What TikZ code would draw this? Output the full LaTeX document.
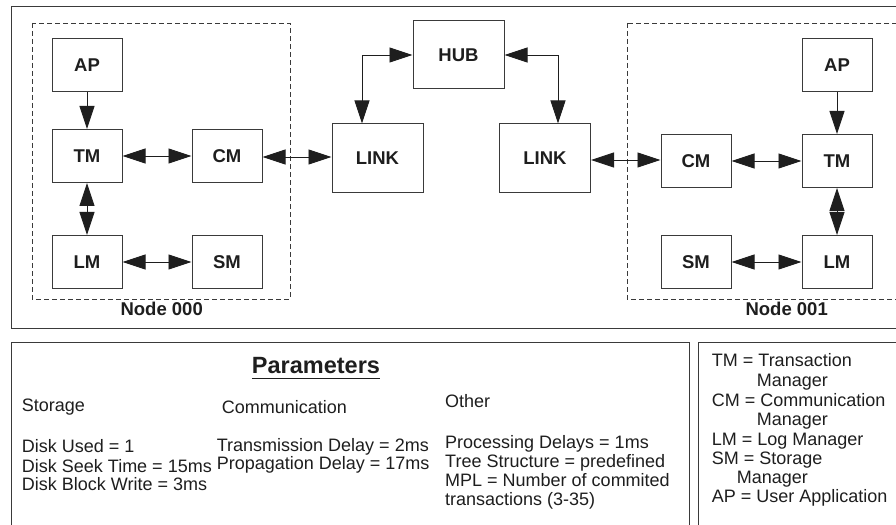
\documentclass[tikz,border=0pt]{standalone}
\usepackage{fontspec}
\setmainfont{Liberation Sans}
\usetikzlibrary{arrows.meta}
\definecolor{ink}{HTML}{1E1E1E}
\definecolor{rule}{HTML}{3A3A3A}
\begin{document}
\begin{tikzpicture}[x=1bp,y=-1bp,
  >={Triangle[length=23bp,width=15bp]},
  frame/.style={draw=rule, line width=1bp},
  part/.style={draw=rule, line width=1bp, minimum width=70bp, minimum height=53bp,
    inner sep=0pt, text=ink, font=\fontsize{18.5bp}{20bp}\selectfont\bfseries},
  wide/.style={part, minimum width=91bp, minimum height=68bp},
  zone/.style={draw=rule, line width=0.9bp, dash pattern=on 5bp off 3bp},
  link/.style={draw=ink, line width=0.9bp},
  txt/.style={anchor=base west, inner sep=0pt, text=ink,
    font=\fontsize{18bp}{19bp}\selectfont},
  lbl/.style={anchor=base, inner sep=0pt, text=ink,
    font=\fontsize{18.5bp}{20bp}\selectfont\bfseries}
]
\useasboundingbox (0,0) rectangle (896,525);
\fill[white] (0,0) rectangle (896,525);
\clip (0,0) rectangle (896,525);

% outer frames
\draw[frame] (11,7) rectangle (910,328);
\draw[frame] (11,342) rectangle (689,540);
\draw[frame] (698,342) rectangle (910,540);

% site boundaries
\draw[zone] (32,23) rectangle (290,299);
\draw[zone] (627,23) rectangle (910,299);
\node[lbl] (n0) at (161.7,316) {Node 000};
\node[lbl] (n1) at (786.7,316) {Node 001};

% site 000
\node[part] (AP1) at (87,65.5) {AP};
\node[part] (TM1) at (87,156) {TM};
\node[part] (CM1) at (227,156) {CM};
\node[part] (LM1) at (87,262) {LM};
\node[part] (SM1) at (227,262) {SM};

% site 001
\node[part] (AP2) at (837,65.5) {AP};
\node[part] (TM2) at (837,161) {TM};
\node[part] (CM2) at (696,161) {CM};
\node[part] (SM2) at (696,262) {SM};
\node[part] (LM2) at (837,262) {LM};

% network
\node[wide] (HUB) at (458.5,55) {HUB};
\node[wide, minimum height=69bp] (LINK1) at (377.5,158.5) {LINK};
\node[wide, minimum height=69bp] (LINK2) at (545,158.5) {LINK};

% connectors, site 000
\draw[link,->] (AP1.south) -- (TM1.north);
\draw[link,<->] (TM1.east) -- (CM1.west);
\draw[link,<->] (TM1.south) -- (LM1.north);
\draw[link,<->] (LM1.east) -- (SM1.west);
\draw[link,<->] ([yshift=-1bp]CM1.east) -- ([yshift=-1bp]CM1.east -| LINK1.west);

% connectors, site 001
\draw[link,->] (AP2.south) -- (TM2.north);
\draw[link,<->] (CM2.east) -- (TM2.west);
\draw[link,<->] (TM2.south) -- (LM2.north);
\draw[link,<->] (SM2.east) -- (LM2.west);
\draw[link,<->] ([yshift=1bp]CM2.west -| LINK2.east) -- ([yshift=1bp]CM2.west);

% hub connections
\coordinate (L1top) at ([xshift=-15.5bp]LINK1.north);
\coordinate (L2top) at ([xshift=13bp]LINK2.north);
\draw[link,<->] (L1top) |- (HUB.west);
\draw[link,<->] (HUB.east) -| (L2top);

% parameters panel
\node[anchor=base, inner sep=0pt, text=ink, font=\fontsize{23.5bp}{26bp}\selectfont\bfseries]
  (title) at (316,373.3) {Parameters};
\draw[draw=ink, line width=1.5bp] ([yshift=-5bp]title.base west) -- ([yshift=-5bp]title.base east);

\node[txt] (s0) at (21.7,411) {Storage};
\node[txt] (s1) at (21.7,452.7) {Disk Used = 1};
\node[txt] (s2) at (21.7,472) {Disk Seek Time = 15ms};
\node[txt] (s3) at (21.7,490.7) {Disk Block Write = 3ms};

\node[txt] (c0) at (221.7,413) {Communication};
\node[txt] (c1) at (216.7,451.7) {Transmission Delay = 2ms};
\node[txt] (c2) at (216.7,469) {Propagation Delay = 17ms};

\node[txt] (o0) at (445,407.7) {Other};
\node[txt] (o1) at (445,448.3) {Processing Delays = 1ms};
\node[txt] (o2) at (445,467.7) {Tree Structure = predefined};
\node[txt] (o3) at (445,486.7) {MPL = Number of commited};
\node[txt] (o4) at (445,505.7) {transactions (3-35)};

% legend panel
\node[txt] (g1) at (711.7,366.7) {TM = Transaction};
\node[txt] (g2) at (756.7,386.3) {Manager};
\node[txt] (g3) at (711.7,406) {CM = Communication};
\node[txt] (g4) at (756.7,425.5) {Manager};
\node[txt] (g5) at (711.7,445) {LM = Log Manager};
\node[txt] (g6) at (711.7,464.3) {SM = Storage};
\node[txt] (g7) at (736.7,483.5) {Manager};
\node[txt] (g8) at (711.7,502.6) {AP = User Application};
\end{tikzpicture}
\end{document}
